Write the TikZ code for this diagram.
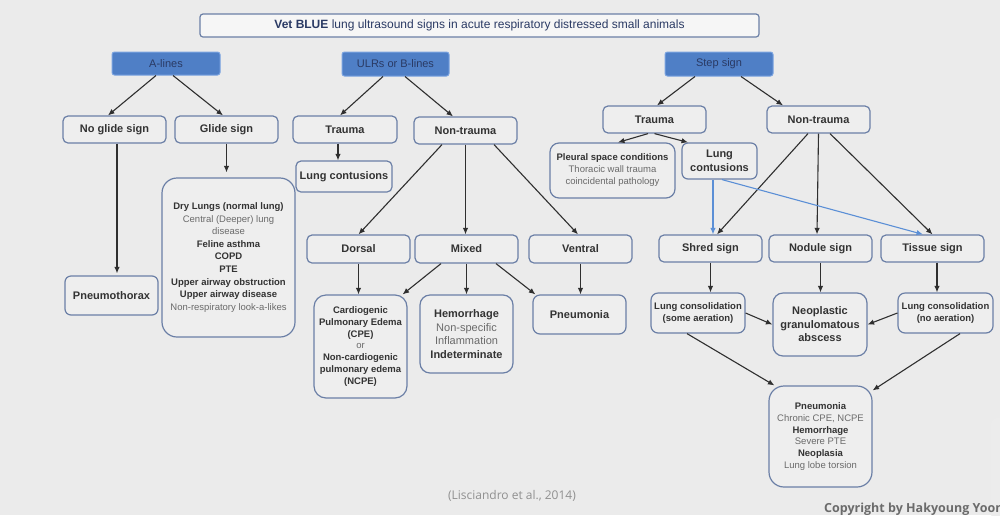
\documentclass[tikz,border=0pt]{standalone}
\usepackage{fontspec}
\setmainfont{Liberation Sans}
\newfontfamily\osans{Open Sans}
\usetikzlibrary{arrows.meta,calc}
\definecolor{bg}{HTML}{EBEBEB}
\definecolor{boxf}{HTML}{EEEEEE}
\definecolor{bord}{HTML}{6B7FA6}
\definecolor{hblue}{HTML}{4F7FC6}
\definecolor{hbord}{HTML}{7AA3E0}
\definecolor{lnc}{HTML}{2F2F2F}
\definecolor{barc}{HTML}{5B8FD6}
\definecolor{txtd}{HTML}{333333}
\definecolor{txtl}{HTML}{6A6A6A}
\definecolor{navy}{HTML}{2A3A64}
\newcommand\bdx[1]{{\bfseries\color{txtd}#1}}
\newcommand\rgx[1]{{\color{txtl}#1}}
\tikzset{
  sz/.style 2 args={minimum width=#1pt,minimum height=#2pt},
  boxx/.style={draw=bord, fill=boxf, rounded corners=5pt, line width=1.2pt, inner sep=0pt, align=center,
    font=\fontsize{11}{13.5}\selectfont\bfseries, text=txtd},
  small/.style={font=\fontsize{9.5}{#1}\selectfont},
  hdr/.style={draw=hbord, fill=hblue, rounded corners=2.5pt, line width=1pt, inner sep=0pt,
    text=navy, font=\fontsize{11}{13}\selectfont},
  arr/.style={-{Latex[length=6.5pt,width=5.5pt]}, line width=1.1pt, draw=lnc},
  barr/.style={-{Latex[length=6.5pt,width=5.5pt]}, line width=1.1pt, draw=barc},
}
\begin{document}
\begin{tikzpicture}[x=1pt,y=-1pt]
\fill[bg] (0,0) rectangle (1000,515);
\useasboundingbox (0,0) rectangle (1000,515);
\clip (0,0) rectangle (1000,515);
\fill[white!85!gray, rounded corners=6pt] (991,418) rectangle (1010,520);

% title and headers
\node[boxx, sz={559}{23}, rounded corners=3pt, fill=white!55!bg, font=\fontsize{12}{14}\selectfont, text=navy] (title) at (479.5,25.5)
  {\textbf{Vet BLUE} lung ultrasound signs in acute respiratory distressed small animals};
\node[hdr, sz={108}{23}] (alines) at (166,63.5) {A-lines};
\node[hdr, sz={107}{24}] (ulr) at (395.5,64) {ULRs or B-lines};
\node[hdr, sz={108}{24}] (step) at (719,64) {Step sign};

% A-lines branch
\node[boxx, sz={103}{27}] (noglide) at (114.5,129.5) {No glide sign};
\node[boxx, sz={103}{27}] (glide) at (226.5,129.5) {Glide sign};
\node[boxx, sz={93}{39}, rounded corners=6pt] (ptx) at (111.5,295.5) {Pneumothorax};
\node[boxx, sz={133}{159}, rounded corners=15pt, small=12.6] (gbox) at (228.5,257.5)
  {\bdx{Dry Lungs (normal lung)}\\ \rgx{Central (Deeper) lung}\\ \rgx{disease}\\ \bdx{Feline asthma}\\ \bdx{COPD}\\ \bdx{PTE}\\
   \bdx{Upper airway obstruction}\\ \bdx{Upper airway disease}\\ \rgx{Non-respiratory look-a-likes}};

% ULR branch
\node[boxx, sz={104}{27}] (utr) at (345,129.5) {Trauma};
\node[boxx, sz={103}{27}] (unt) at (465.5,130.5) {Non-trauma};
\node[boxx, sz={96}{31}] (ulc) at (344,176.5) {Lung contusions};
\node[boxx, sz={103}{28}] (dorsal) at (358.5,249) {Dorsal};
\node[boxx, sz={103}{28}] (mixed) at (466.5,249) {Mixed};
\node[boxx, sz={103}{28}] (ventral) at (580.5,249) {Ventral};
\node[boxx, sz={93}{103}, rounded corners=12pt, small=11.7] (cpe) at (360.5,346.5)
  {\bdx{Cardiogenic}\\ \bdx{Pulmonary Edema}\\ \bdx{(CPE)}\\ \rgx{or}\\ \bdx{Non-cardiogenic}\\ \bdx{pulmonary edema}\\ \bdx{(NCPE)}};
\node[boxx, sz={93}{78}, rounded corners=10pt, font=\fontsize{11}{13.5}\selectfont] (hem) at (466.5,334)
  {\bdx{Hemorrhage}\\ \rgx{Non-specific}\\ \rgx{Inflammation}\\ \bdx{Indeterminate}};
\node[boxx, sz={93}{39}, rounded corners=7pt] (pneu) at (579.5,314.5) {Pneumonia};

% Step sign branch
\node[boxx, sz={103}{27}] (str) at (654.5,119.5) {Trauma};
\node[boxx, sz={103}{27}] (snt) at (818.5,119.5) {Non-trauma};
\node[boxx, sz={125}{55}, rounded corners=9pt, small=12] (pleural) at (612.5,170.5)
  {\bdx{Pleural space conditions}\\ \rgx{Thoracic wall trauma}\\ \rgx{coincidental pathology}};
\node[boxx, sz={75}{36}, rounded corners=6pt] (slc) at (719.5,161) {Lung\\contusions};
\node[boxx, sz={103}{27}] (shred) at (710.5,248.5) {Shred sign};
\node[boxx, sz={103}{27}] (nodule) at (820.5,248.5) {Nodule sign};
\node[boxx, sz={103}{27}] (tissue) at (932.5,248.5) {Tissue sign};
\node[boxx, sz={94}{40}, rounded corners=7pt, small=11.5] (lcsome) at (698,313) {\bdx{Lung consolidation}\\ \bdx{(some aeration)}};
\node[boxx, sz={94}{63}, rounded corners=10pt] (neo) at (820,324.5) {Neoplastic\\granulomatous\\abscess};
\node[boxx, sz={95}{40}, rounded corners=7pt, small=11.5] (lcno) at (945.5,313) {\bdx{Lung consolidation}\\ \bdx{(no aeration)}};
\node[boxx, sz={103}{101}, rounded corners=15pt, small=11.8] (bottom) at (820.5,436.5)
  {\bdx{Pneumonia}\\ \rgx{Chronic CPE, NCPE}\\ \bdx{Hemorrhage}\\ \rgx{Severe PTE}\\ \bdx{Neoplasia}\\ \rgx{Lung lobe torsion}};

% footer texts
\node[inner sep=0pt, text=gray!85!bg, font=\osans\fontsize{12}{14}\selectfont] (ref) at (512,496) {(Lisciandro et al., 2014)};
\node[inner sep=0pt, anchor=west, text=black!58, font=\osans\bfseries\fontsize{12.5}{14}\selectfont] (copy) at (824,509) {Copyright by Hakyoung Yoon};

% connectors
\draw[arr] ([xshift=-10pt]alines.south) -- ([xshift=-6.5pt]noglide.north);
\draw[arr] ([xshift=7pt]alines.south) -- ([xshift=-3.5pt]glide.north);
\draw[arr] ([xshift=-12.5pt]ulr.south) -- ([xshift=-5pt]utr.north);
\draw[arr] ([xshift=9.5pt]ulr.south) -- ([xshift=-12.5pt]unt.north);
\draw[arr] ([xshift=-24pt]step.south) -- ([xshift=2.5pt]str.north);
\draw[arr] ([xshift=22pt]step.south) -- ([xshift=-35.5pt]snt.north);

\draw[arr, shorten >=5pt] (glide.south) -- (glide.south |- gbox.north);
\draw[arr, shorten >=2pt] ([xshift=2.5pt]noglide.south) -- ([xshift=2.5pt]noglide.south |- ptx.north);

\draw[arr] ([xshift=-7pt]utr.south) -- ([xshift=-7pt]utr.south |- ulc.north);
\draw[arr] ([xshift=-23.5pt]unt.south) -- (dorsal.north);
\draw[arr] (unt.south) -- (unt.south |- mixed.north);
\draw[arr] ([xshift=28.5pt]unt.south) -- ([xshift=-2.5pt]ventral.north);
\draw[arr] (dorsal.south) -- (dorsal.south |- cpe.north);
\draw[arr] ([xshift=-25.5pt]mixed.south) -- ([xshift=-5pt]cpe.north east);
\draw[arr] (mixed.south) -- (mixed.south |- hem.north);
\draw[arr] ([xshift=29.5pt]mixed.south) -- ([xshift=3pt]pneu.north west);
\draw[arr] (ventral.south) -- (ventral.south |- pneu.north);

\draw[arr] ([xshift=-6.5pt]str.south) -- ([xshift=5.5pt]pleural.north);
\draw[arr] (str.south) -- ([xshift=-31.5pt]slc.north);
\draw[arr] ([xshift=-10.5pt]snt.south) -- ([xshift=6.5pt]shred.north);
\draw[arr] (snt.south) -- ([xshift=-3.5pt]nodule.north);
\draw[arr] ([xshift=11.5pt]snt.south) -- (tissue.north);
\draw[barr] ([xshift=-6.5pt]slc.south) -- ([xshift=-6.5pt]slc.south |- shred.north);
\draw[barr] ([xshift=2.5pt]slc.south) -- ([xshift=-9.5pt]tissue.north);
\draw[arr] (shred.south) -- (shred.south |- lcsome.north);
\draw[arr] (nodule.south) -- (nodule.south |- neo.north);
\draw[arr] ([xshift=4.5pt]tissue.south) -- ([xshift=4.5pt]tissue.south |- lcno.north);
\draw[arr] (lcsome.east) -- (neo.west);
\draw[arr] (lcno.west) -- (neo.east);
\draw[arr] ([xshift=-11pt]lcsome.south) -- ([xshift=6pt]bottom.north west);
\draw[arr] ([xshift=14.5pt]lcno.south) -- ([yshift=-5pt]bottom.north east);
\end{tikzpicture}
\end{document}
